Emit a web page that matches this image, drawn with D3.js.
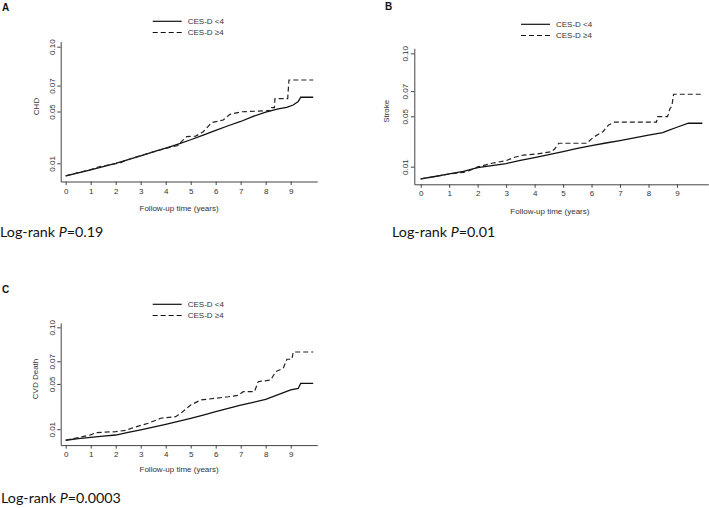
<!DOCTYPE html>
<html>
<head>
<meta charset="utf-8">
<script src="https://cdn.jsdelivr.net/npm/d3@7"></script>
<style>
  html, body { margin: 0; padding: 0; background: #fff; }
  svg { display: block; }
  .tick text { font-family: "Liberation Sans", Arial, sans-serif; font-size: 8px; fill: #333; }
  .lab { font-family: "Liberation Sans", Arial, sans-serif; font-size: 8px; fill: #333; }
  .panel { font-family: "Liberation Sans", Arial, sans-serif; font-size: 10px; font-weight: bold; fill: #111; }
  .lr { font-family: "Lato", "Open Sans", sans-serif; font-size: 14.3px; fill: #111; }
</style>
</head>
<body>
<svg id="chart" width="709" height="508"></svg>
<script>
// ---------- data ----------
const xTicks = [0, 1, 2, 3, 4, 5, 6, 7, 8, 9];
const yTicks = [0.01, 0.05, 0.07, 0.10];
const yTickLabels = ["0.01", "0.05", "0.07", "0.10"];
const seriesNames = ["CES-D <4", "CES-D \u22654"];
const panelLetters = ["A", "B", "C"];
const outcomeNames = ["CHD", "Stroke", "CVD Death"];
const pValues = ["0.19", "0.01", "0.0003"];

const chdLow = [[0,0.0003],[0.5,0.0027],[1,0.005],[1.5,0.0075],[2,0.0100],[2.5,0.0128],[3,0.0158],[3.5,0.0188],[4,0.0218],[4.5,0.0249],[5,0.0282],[5.5,0.0318],[6,0.0355],[6.5,0.039],[7,0.0423],[7.5,0.0462],[8,0.0495],[8.5,0.052],[8.84,0.0532],[9.1,0.055],[9.3,0.0576],[9.4,0.061],[9.9,0.061]];
const chdHigh = [[0,0.0003],[0.5,0.0028],[1,0.0052],[1.3,0.0072],[1.5,0.008],[2,0.0098],[2.2,0.0106],[2.5,0.013],[3,0.016],[3.5,0.0188],[4,0.0216],[4.5,0.0238],[4.6,0.0262],[4.84,0.0306],[5.2,0.031],[5.5,0.0344],[5.84,0.0414],[6.3,0.0434],[6.57,0.0478],[7.04,0.0498],[8.1,0.0506],[8.22,0.0506],[8.24,0.053],[8.35,0.053],[8.37,0.06],[8.88,0.06],[8.93,0.0743],[9.9,0.0743]];
const strokeLow = [[0,0.0003],[0.5,0.0022],[1,0.0042],[1.5,0.0062],[2,0.0092],[2.5,0.0108],[3,0.0125],[3.5,0.015],[4,0.0172],[4.5,0.0195],[5,0.022],[5.5,0.0245],[6,0.0267],[6.5,0.0288],[7,0.0307],[7.5,0.0328],[8,0.035],[8.5,0.037],[8.7,0.0388],[9,0.0413],[9.4,0.0445],[9.89,0.0445]];
const strokeHigh = [[0,0.0003],[0.5,0.0022],[1,0.0042],[1.5,0.0055],[1.7,0.0068],[2,0.0098],[2.5,0.0127],[3,0.0148],[3.3,0.0175],[3.6,0.0192],[4.1,0.0201],[4.6,0.022],[4.7,0.024],[4.85,0.0286],[5.83,0.0286],[6.06,0.0333],[6.4,0.0378],[6.6,0.0432],[6.8,0.0453],[8.28,0.0453],[8.32,0.0497],[8.67,0.0497],[8.75,0.056],[8.82,0.058],[8.88,0.0675],[9.9,0.0675]];
const cvdLow = [[0,0.0003],[0.5,0.0017],[1,0.0029],[1.5,0.0039],[2,0.0049],[2.5,0.0072],[3,0.0094],[3.5,0.0118],[4,0.0144],[4.5,0.017],[5,0.0197],[5.5,0.0225],[6,0.0255],[6.5,0.0285],[7,0.0314],[7.5,0.0338],[8,0.0364],[8.5,0.0405],[9,0.0447],[9.3,0.046],[9.4,0.0505],[9.9,0.0505]];
const cvdHigh = [[0,0.0003],[0.5,0.0026],[1,0.005],[1.2,0.007],[2,0.0079],[2.4,0.009],[2.7,0.0114],[3.3,0.0153],[3.8,0.0197],[4.4,0.0211],[4.6,0.0241],[5,0.0314],[5.4,0.0358],[6.5,0.0387],[6.9,0.040],[7.1,0.0432],[7.55,0.0432],[7.7,0.052],[8.2,0.0535],[8.4,0.0608],[8.7,0.0638],[8.85,0.0718],[9.05,0.0718],[9.1,0.0782],[9.9,0.0782]];

const panelSeries = [[chdLow, chdHigh], [strokeLow, strokeHigh], [cvdLow, cvdHigh]];

// ---------- layout ----------
const layouts = [
  { x0: 60.7, x1: 317.3, yTop: 41.5, yBot: 181.5, xDom: [-0.2, 10.064],
    letter: [2, 11], legX: 152.7, legY: 21.3, ylabX: 36, xlabY: 211, lr: [0, 237] },
  { x0: 414.3, x1: 708.3, yTop: 48.3, yBot: 184.3, xDom: [-0.225, 10.1],
    letter: [385, 10], legX: 521, legY: 24.3, ylabX: 386, xlabY: 214, lr: [392, 237] },
  { x0: 60.7, x1: 317.3, yTop: 322.8, yBot: 445.1, xDom: [-0.2, 10.064],
    letter: [2, 293], legX: 152.7, legY: 304.3, ylabX: 35, xlabY: 472, lr: [1, 503] }
];

const svg = d3.select("#chart");

layouts.forEach((L, i) => {
  const g = svg.append("g");
  const x = d3.scaleLinear().domain(L.xDom).range([L.x0, L.x1]);
  const y = d3.scaleLinear().domain([-0.004, 0.104]).range([L.yBot, L.yTop]);

  // x axis
  const xa = g.append("g").attr("transform", `translate(0,${L.yBot})`)
    .call(d3.axisBottom(x).tickValues(xTicks).tickFormat(d3.format("d")).tickSize(3.5).tickSizeOuter(0).tickPadding(3));
  xa.select(".domain").attr("stroke", "#444").attr("stroke-width", 1);
  xa.selectAll(".tick line").attr("stroke", "#444");

  // y axis
  const ya = g.append("g").attr("transform", `translate(${L.x0},0)`)
    .call(d3.axisLeft(y).tickValues(yTicks).tickFormat((d, j) => yTickLabels[j]).tickSize(3.5).tickSizeOuter(0));
  ya.select(".domain").attr("stroke", "#444").attr("stroke-width", 1);
  ya.selectAll(".tick line").attr("stroke", "#444");
  ya.selectAll(".tick text")
    .attr("transform", "rotate(-90)")
    .attr("x", 0).attr("y", -9).attr("dy", "0.35em")
    .attr("text-anchor", "middle");

  // curves
  const line = d3.line().x(d => x(d[0])).y(d => y(d[1]));
  const [low, high] = panelSeries[i];
  g.append("path").datum(low).attr("d", line)
    .attr("fill", "none").attr("stroke", "#111").attr("stroke-width", 1.3);
  g.append("path").datum(high).attr("d", line)
    .attr("fill", "none").attr("stroke", "#222").attr("stroke-width", 1.2)
    .attr("stroke-dasharray", "5,3");

  // legend
  const lg = g.append("g");
  [0, 1].forEach(k => {
    const ly = L.legY + k * 11.2;
    lg.append("line").attr("x1", L.legX).attr("x2", L.legX + 29)
      .attr("y1", ly).attr("y2", ly)
      .attr("stroke", "#111").attr("stroke-width", 1.2)
      .attr("stroke-dasharray", k === 1 ? "5,3" : null);
    lg.append("text").attr("class", "lab")
      .attr("x", L.legX + 35).attr("y", ly).attr("dy", "0.35em")
      .text(seriesNames[k]);
  });

  // axis titles
  g.append("text").attr("class", "lab").attr("text-anchor", "middle")
    .attr("x", (x(0) + x(9)) / 2 + (x(9) - x(0)) * 0.004).attr("y", L.xlabY)
    .text("Follow-up time (years)");
  g.append("text").attr("class", "lab").attr("text-anchor", "middle")
    .attr("transform", `translate(${L.ylabX},${y(0.05) - 5}) rotate(-90)`)
    .attr("dy", "0.35em")
    .text(outcomeNames[i]);

  // panel letter
  g.append("text").attr("class", "panel").attr("x", L.letter[0]).attr("y", L.letter[1])
    .text(panelLetters[i]);

  // log-rank
  const t = g.append("text").attr("class", "lr").attr("x", L.lr[0]).attr("y", L.lr[1]);
  t.append("tspan").text("Log-rank ");
  t.append("tspan").attr("font-style", "italic").text("P");
  t.append("tspan").text("=" + pValues[i]);
});
</script>
</body>
</html>
